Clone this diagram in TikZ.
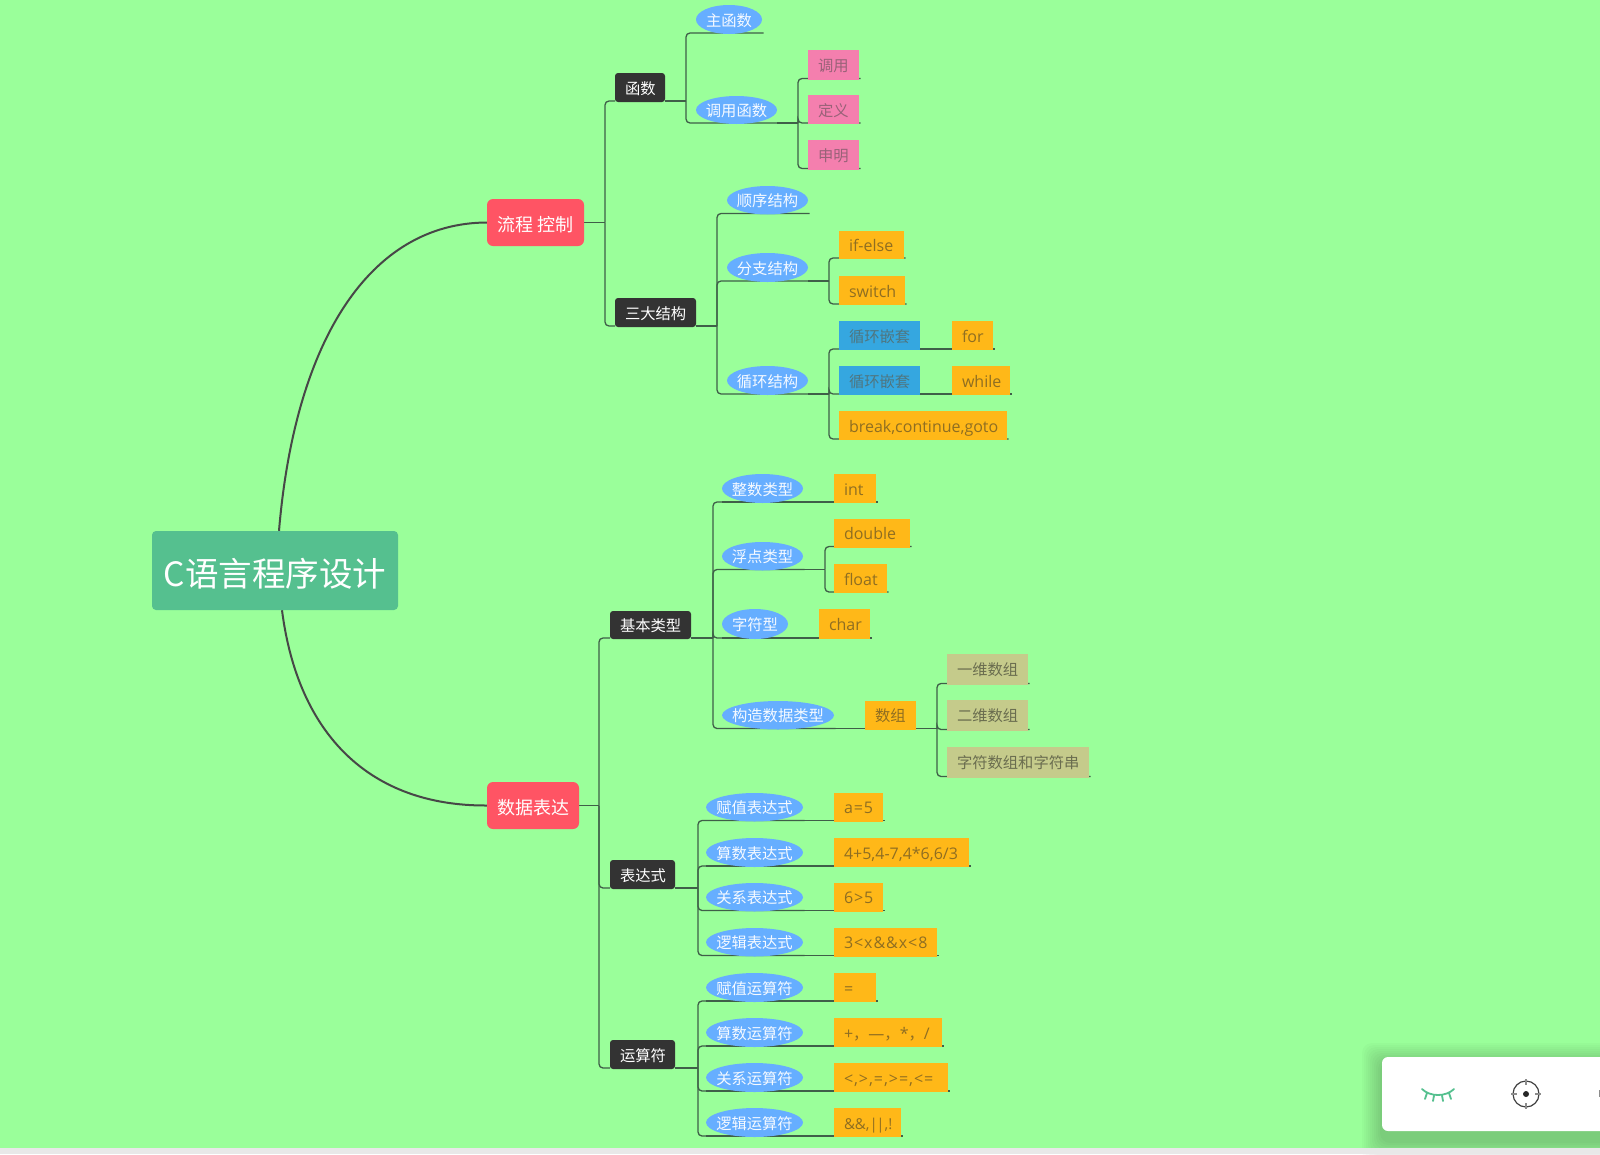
\documentclass[tikz,border=0pt]{standalone}
\usepackage{fontspec}
\setmainfont{Noto Sans CJK SC}
\newfontfamily\latfam{Open Sans}
\newfontfamily\latwide[LetterSpace=6]{Open Sans}
\newcommand\lat{\latfam\fontsize{16}{16}\selectfont}
\newcommand\latw{\latwide\fontsize{16}{16}\selectfont}
\usetikzlibrary{shapes.geometric,calc}
\pgfdeclarelayer{bg}
\pgfsetlayers{bg,main}
\definecolor{pagegreen}{HTML}{9AFF9A}
\definecolor{rootgreen}{HTML}{55C08F}
\definecolor{redbox}{HTML}{FF5464}
\definecolor{darkbox}{HTML}{333333}
\definecolor{oval}{HTML}{66AEFF}
\definecolor{pinkbox}{HTML}{F47FAE}
\definecolor{orangebox}{HTML}{FFB818}
\definecolor{bluebox}{HTML}{35A7E0}
\definecolor{khaki}{HTML}{C5CB8B}
\definecolor{wire}{HTML}{3F5F48}
\definecolor{orangetext}{HTML}{8F6E22}
\definecolor{bluetext}{HTML}{4F7680}
\tikzset{
  fs/.style={font=\fontsize{#1}{#1}\selectfont},
  base/.style={inner sep=0pt,outer sep=0pt,text height=14pt,text depth=1pt,fs=15.3},
  rootbox/.style={fill=rootgreen,rounded corners=4pt,text=white,inner sep=0pt,text height=31.4pt,text depth=0pt,fs=33.5},
  mainbox/.style={fill=redbox,rounded corners=6pt,text=white,inner sep=0pt,text height=17.5pt,text depth=0pt,fs=18},
  subbox/.style={base,fill=darkbox,rounded corners=3pt,text=white},
  ovalbox/.style={base,ellipse,fill=oval,text=white!94!oval},
  pinkleaf/.style={base,fill=pinkbox,text=pinkbox!55!black!85!white},
  leaf/.style={base,fill=orangebox,text=orangetext},
  blueleaf/.style={base,fill=bluebox,text=bluetext},
  khakileaf/.style={base,fill=khaki,text=khaki!50!black!95!white},
  conn/.style={draw=wire,line width=1.3pt,rounded corners=4pt},
  curve/.style={draw=black!72,line width=2pt},
}
% style, name, x0, y0, x1, y1, text
\newcommand\bx[7]{%
  \pgfmathsetmacro\boxw{#5-#3-20}%
  \node[#1,minimum width={(#5-#3)*1pt},minimum height={(#6-#4)*1pt}] (#2) at ({(#3+#5)/2},{(#4+#6)/2}) {\makebox[\boxw pt][l]{#7}};}
% oval: the text is centred and does not size the ellipse
\newcommand\ov[6]{%
  \node[ovalbox,minimum width={(#4-#2)*1pt},minimum height={(#5-#3)*1pt}] (#1) at ({(#2+#4)/2},{(#3+#5)/2}) {\makebox[0pt][c]{#6}};}
% parent, trunk, child: T at the trunk, rounded at the child
\newcommand\elbow[3]{%
  \begin{pgfonlayer}{bg}
  \draw[conn] ($(#1.east |- #1.south)+(0,-1)$) -- ($(#2 |- #1.south)+(0,-1)$);
  \draw[conn] ($(#2 |- #1.south)+(0,-1)$) -- ($(#2 |- #3.south)+(0,-1)$) -- ($(#3.east |- #3.south)+(1.5,-1)$);
  \end{pgfonlayer}}
% parent, child: straight underline
\newcommand\straight[2]{%
  \begin{pgfonlayer}{bg}
  \draw[conn] ($(#1.west |- #1.south)+(0,-1)$) -- ($(#2.east |- #2.south)+(1.5,-1)$);
  \end{pgfonlayer}}
% main box, trunk, child: leaves the box at mid height
\newcommand\mainlink[3]{%
  \begin{pgfonlayer}{bg}
  \draw[conn] (#1.east) -- (#2 |- #1.east);
  \draw[conn] (#2 |- #1.east) -- ($(#2 |- #3.south)+(0,-1)$) -- ($(#3.west |- #3.south)+(0,-1)$);
  \end{pgfonlayer}}
\begin{document}
\begin{tikzpicture}[x=1pt,y=-1pt]
\useasboundingbox (0,0) rectangle (1600,1154);
\begin{pgfonlayer}{bg}
  \fill[pagegreen] (0,0) rectangle (1600,1154);
\end{pgfonlayer}

% root and main topics
\node[rootbox,minimum width=246pt,minimum height=79pt] (root) at (275,570.5) {C语言程序设计};
\node[mainbox,minimum width=97pt,minimum height=47pt] (flow) at (535.5,222.5) {流程 控制};
\node[mainbox,minimum width=92pt,minimum height=47pt] (data) at (533,805.5) {数据表达};

% subtopics
\bx{subbox}{func}{615}{73}{665}{102}{函数}
\bx{subbox}{three}{615}{298}{696}{327}{三大结构}
\bx{subbox}{basic}{610}{611}{691}{639}{基本类型}
\bx{subbox}{expr}{610}{860}{675}{889}{表达式}
\bx{subbox}{oper}{610}{1040}{675}{1069}{运算符}

% flow branch
\ov{mainf}{696}{5}{762}{34}{主函数}
\ov{callf}{696}{96}{777}{124}{调用函数}
\bx{pinkleaf}{call}{808}{50}{859}{79.5}{调用}
\bx{pinkleaf}{define}{808}{95}{859}{124}{定义}
\bx{pinkleaf}{declare}{808}{140}{859}{169.5}{申明}
\ov{seq}{727}{186}{808}{214.5}{顺序结构}
\ov{branch}{727}{253}{808}{282}{分支结构}
\ov{loop}{727}{366}{808}{395}{循环结构}
\bx{leaf}{ifelse}{839}{231}{904}{259}{\lat if-else}
\bx{leaf}{switch}{839}{276}{905}{305}{\lat switch}
\bx{blueleaf}{nesta}{839}{321}{920}{350}{循环嵌套}
\bx{blueleaf}{nestb}{839}{366}{920}{395}{循环嵌套}
\bx{leaf}{for}{952}{321}{993}{350}{\lat for}
\bx{leaf}{while}{952}{366}{1010}{395}{\lat while}
\bx{leaf}{jump}{839}{411}{1007}{440}{\lat break,continue,goto}

% data branch: basic types
\ov{intt}{722}{474}{803}{503}{整数类型}
\ov{floatt}{722}{542}{803}{570.5}{浮点类型}
\ov{chart}{722}{609}{788}{639}{字符型}
\ov{compt}{722}{701}{834}{729.5}{构造数据类型}
\bx{leaf}{int}{834}{474}{876}{503}{\lat int}
\bx{leaf}{double}{834}{519}{910}{547.5}{\lat double}
\bx{leaf}{float}{834}{564}{887}{593}{\lat float}
\bx{leaf}{char}{819}{609}{870}{639}{\lat char}
\bx{leaf}{array}{865}{701}{916}{729.5}{数组}
\bx{khakileaf}{onedim}{947}{654}{1028}{684.5}{一维数组}
\bx{khakileaf}{twodim}{947}{700}{1028}{730.5}{二维数组}
\bx{khakileaf}{strs}{947}{747}{1089}{777.5}{字符数组和字符串}

% data branch: expressions
\ov{assigne}{706}{793}{803}{821.5}{赋值表达式}
\ov{arithe}{706}{838}{803}{867}{算数表达式}
\ov{rele}{706}{883}{803}{911.5}{关系表达式}
\ov{loge}{706}{928}{803}{956.5}{逻辑表达式}
\bx{leaf}{vassign}{834}{793}{883}{821.5}{\latw a=5}
\bx{leaf}{varith}{834}{838}{969}{867}{\lat 4+5,4-7,4*6,6/3}
\bx{leaf}{vrel}{834}{883}{883}{911.5}{\latw 6>5}
\bx{leaf}{vlog}{834}{928}{937}{956.5}{\latw 3<x\&\&x<8}

% data branch: operators
\ov{assigno}{706}{973}{803}{1002}{赋值运算符}
\ov{aritho}{706}{1018}{803}{1047}{算数运算符}
\ov{relo}{706}{1063}{803}{1092}{关系运算符}
\ov{logo}{706}{1108}{803}{1137}{逻辑运算符}
\bx{leaf}{oassign}{834}{973}{876}{1002}{\lat =}
\bx{leaf}{oarith}{834}{1018}{942}{1047}{{\lat +}，{\lat —}，{\lat *}，{\lat /}}
\bx{leaf}{orel}{834}{1063}{948}{1092}{\latw <,>,=,>=,<=}
\bx{leaf}{olog}{834}{1108}{901}{1137}{\latfam\fontsize{15}{15}\selectfont \&\&,|\kern-1.5pt|,!}

% trunks
\coordinate (tflow) at (605,0);
\coordinate (tfunc) at (686,0);
\coordinate (tcall) at (798,0);
\coordinate (tthree) at (717,0);
\coordinate (tbranch) at (829,0);
\coordinate (tdata) at (599,0);
\coordinate (tbasic) at (713,0);
\coordinate (tfloat) at (825,0);
\coordinate (tarray) at (937,0);
\coordinate (texpr) at (698,0);

% connectors
\begin{pgfonlayer}{bg}
  \draw[curve] ($(root.north)+(4,0)$) .. controls (295,340) and (370,223) .. (flow.west);
  \draw[curve] ($(root.south)+(7,0)$) .. controls (298,735) and (370,806) .. (data.west);
\end{pgfonlayer}
\mainlink{flow}{tflow}{func}
\mainlink{flow}{tflow}{three}
\elbow{func}{tfunc}{mainf}
\elbow{func}{tfunc}{callf}
\elbow{callf}{tcall}{call}
\elbow{callf}{tcall}{define}
\elbow{callf}{tcall}{declare}
\elbow{three}{tthree}{seq}
\elbow{three}{tthree}{branch}
\elbow{three}{tthree}{loop}
\elbow{branch}{tbranch}{ifelse}
\elbow{branch}{tbranch}{switch}
\elbow{loop}{tbranch}{nesta}
\elbow{loop}{tbranch}{nestb}
\elbow{loop}{tbranch}{jump}
\straight{nesta}{for}
\straight{nestb}{while}
\mainlink{data}{tdata}{basic}
\mainlink{data}{tdata}{expr}
\mainlink{data}{tdata}{oper}
\elbow{basic}{tbasic}{intt}
\elbow{basic}{tbasic}{floatt}
\elbow{basic}{tbasic}{chart}
\elbow{basic}{tbasic}{compt}
\straight{intt}{int}
\elbow{floatt}{tfloat}{double}
\elbow{floatt}{tfloat}{float}
\straight{chart}{char}
\straight{compt}{array}
\elbow{array}{tarray}{onedim}
\elbow{array}{tarray}{twodim}
\elbow{array}{tarray}{strs}
\elbow{expr}{texpr}{assigne}
\elbow{expr}{texpr}{arithe}
\elbow{expr}{texpr}{rele}
\elbow{expr}{texpr}{loge}
\straight{assigne}{vassign}
\straight{arithe}{varith}
\straight{rele}{vrel}
\straight{loge}{vlog}
\elbow{oper}{texpr}{assigno}
\elbow{oper}{texpr}{aritho}
\elbow{oper}{texpr}{relo}
\elbow{oper}{texpr}{logo}
\straight{assigno}{oassign}
\straight{aritho}{oarith}
\straight{relo}{orel}
\straight{logo}{olog}

% bottom band and floating toolbar
\begin{scope}
  \clip (0,0) rectangle (1600,1154);
  \foreach \g in {1,...,10}
    \fill[black,opacity=0.02,rounded corners=10pt] (1382-2*\g,1063-2*\g) rectangle (1620,1141+2*\g);
  \fill[black!9] (0,1148) rectangle (1600,1154);
  \fill[white,rounded corners=6pt] (1382,1057) rectangle (1620,1131);
  \draw[rootgreen,line width=1.8pt,line cap=round] (1422,1089) .. controls (1430,1097) and (1446,1097) .. (1454,1089);
  \draw[rootgreen,line width=1.8pt,line cap=round] (1427,1093) -- (1425,1099) (1434,1095.5) -- (1433,1101) (1442,1095.5) -- (1443,1101) (1449,1093) -- (1451,1099);
  \draw[black!75,line width=1.2pt] (1526,1094) circle (13);
  \fill[black!85] (1526,1094) circle (3);
  \draw[black!45,line width=1.8pt] (1526,1079) -- (1526,1085) (1526,1103) -- (1526,1109) (1511,1094) -- (1517,1094) (1535,1094) -- (1541,1094);
  \fill[black!45] (1599,1090) rectangle (1600,1097);
\end{scope}
\end{tikzpicture}
\end{document}
